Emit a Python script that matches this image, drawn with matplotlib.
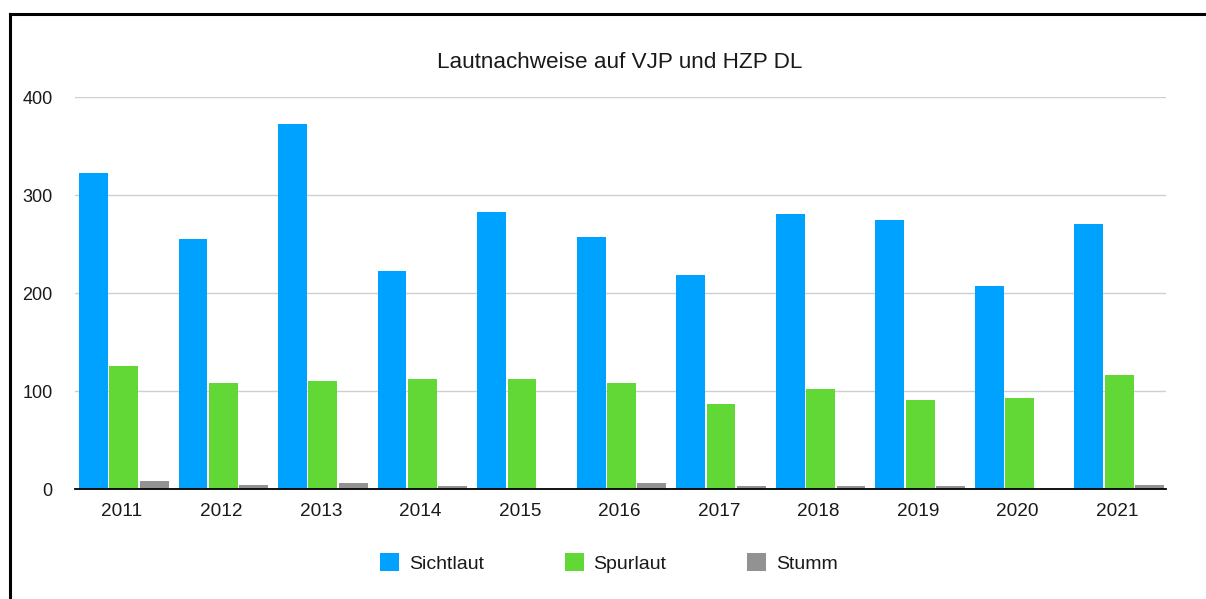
import matplotlib
matplotlib.use("Agg")
import matplotlib.pyplot as plt
from matplotlib.lines import Line2D
from matplotlib.patches import Patch
import numpy as np

plt.rcParams['font.family'] = ['Liberation Sans', 'DejaVu Sans']

years = ["2011", "2012", "2013", "2014", "2015", "2016", "2017", "2018", "2019", "2020", "2021"]
sichtlaut = [322, 255, 372, 222, 283, 257, 218, 281, 274, 207, 270]
spurlaut = [126, 108, 110, 112, 112, 108, 87, 102, 91, 93, 116]
stumm = [8, 4, 6, 3, 0, 6, 3, 3, 3, 0, 4]

series_names = ["Sichtlaut", "Spurlaut", "Stumm"]
colors = ["#00A2FF", "#61D836", "#929292"]

W, H = 1206, 599
fig = plt.figure(figsize=(W / 100, H / 100), dpi=100)
ax = fig.add_axes([75 / W, (H - 489) / H, (1166 - 75) / W, (489 - 97) / H])

x = np.arange(len(years))
width = 0.29
offsets = [-0.285, 0.02, 0.325]
for vals, off, col, name in zip([sichtlaut, spurlaut, stumm], offsets, colors, series_names):
    ax.bar(x + off, vals, width, color=col, label=name, zorder=3, linewidth=0)

ax.set_xlim(-0.47, len(years) - 1 + 0.49)
ax.set_ylim(0, 400)
ax.set_yticks([0, 100, 200, 300, 400])
ax.set_xticks(x)
ax.set_xticklabels(years)
ax.grid(axis='y', color='#cfcfcf', linewidth=1.0, zorder=0)
ax.set_axisbelow(True)
for s in ['top', 'right', 'left']:
    ax.spines[s].set_visible(False)
ax.spines['bottom'].set_color('black')
ax.spines['bottom'].set_linewidth(1.3)
ax.spines['bottom'].set_zorder(4)
ax.tick_params(axis='both', length=0, colors='#1a1a1a')
ax.tick_params(axis='y', pad=16, labelsize=13)
ax.tick_params(axis='x', pad=10, labelsize=13.7)

fig.text(620 / W, 1 - 63 / H, "Lautnachweise auf VJP und HZP DL", ha='center', va='center',
         fontsize=16.2, color='#1a1a1a')

handles = [Patch(facecolor=c, edgecolor='none') for c in colors]
fig.legend(handles, series_names, loc='center', bbox_to_anchor=(609 / W, 1 - 563 / H),
           ncol=3, frameon=False, fontsize=14, handlelength=0.98, handleheight=0.98,
           handletextpad=0.5, columnspacing=4.15, labelcolor='#1a1a1a')

# outer frame lines (top and left)
fig.add_artist(Line2D([9.5 / W, 1.0], [1 - 14 / H, 1 - 14 / H], color='black', linewidth=2.2,
                      transform=fig.transFigure))
fig.add_artist(Line2D([9.5 / W, 9.5 / W], [1 - 14 / H, 0], color='black', linewidth=2.2,
                      transform=fig.transFigure))

fig.savefig("out.png", dpi=100)
